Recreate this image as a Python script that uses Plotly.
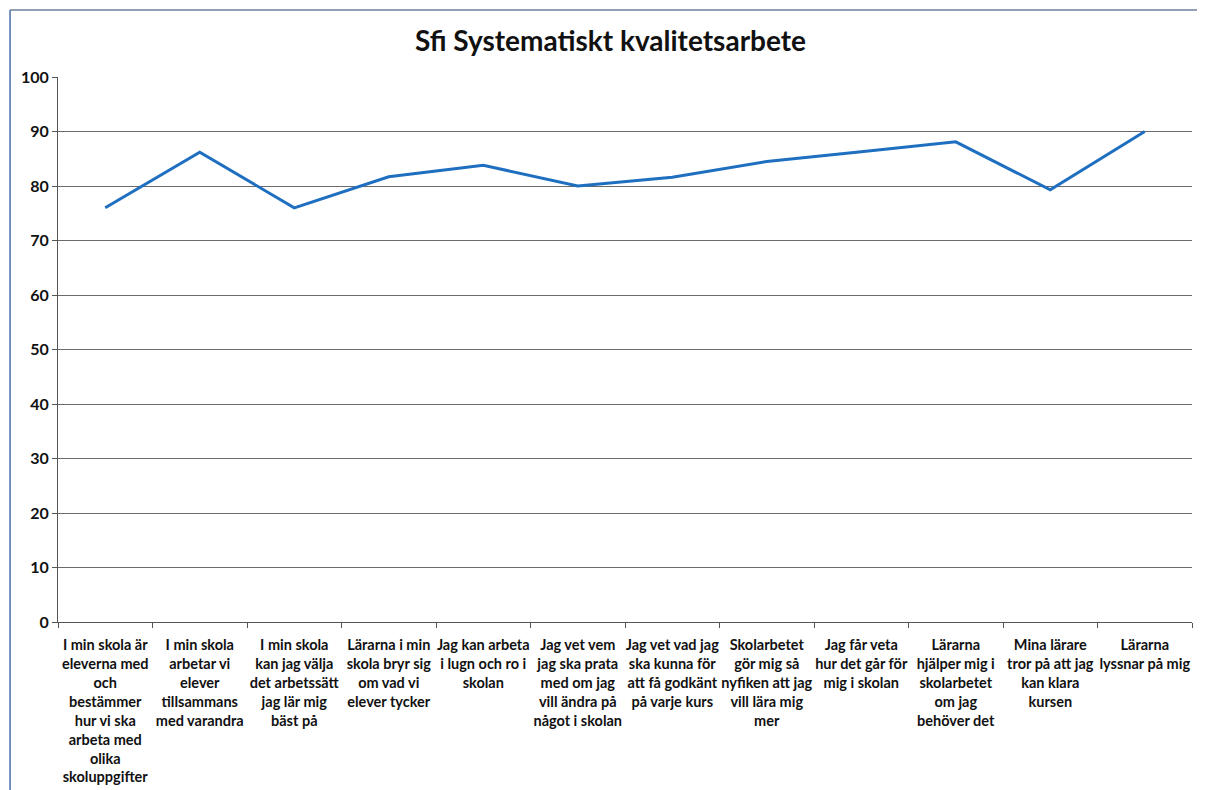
import plotly.graph_objects as go

categories = [
    "I min skola är<br>eleverna med<br>och<br>bestämmer<br>hur vi ska<br>arbeta med<br>olika<br>skoluppgifter",
    "I min skola<br>arbetar vi<br>elever<br>tillsammans<br>med varandra",
    "I min skola<br>kan jag välja<br>det arbetssätt<br>jag lär mig<br>bäst på",
    "Lärarna i min<br>skola bryr sig<br>om vad vi<br>elever tycker",
    "Jag kan arbeta<br>i lugn och ro i<br>skolan",
    "Jag vet vem<br>jag ska prata<br>med om jag<br>vill ändra på<br>något i skolan",
    "Jag vet vad jag<br>ska kunna för<br>att få godkänt<br>på varje kurs",
    "Skolarbetet<br>gör mig så<br>nyfiken att jag<br>vill lära mig<br>mer",
    "Jag får veta<br>hur det går för<br>mig i skolan",
    "Lärarna<br>hjälper mig i<br>skolarbetet<br>om jag<br>behöver det",
    "Mina lärare<br>tror på att jag<br>kan klara<br>kursen",
    "Lärarna<br>lyssnar på mig",
]
values = [76, 86.2, 76, 81.7, 83.8, 80, 81.6, 84.5, 86.3, 88.1, 79.3, 90]

font_family = "Lato, Open Sans, sans-serif"

fig = go.Figure()
fig.add_trace(go.Scatter(
    x=categories,
    y=values,
    mode="lines",
    line=dict(color="#1f6fc1", width=3),
    showlegend=False,
))

fig.update_layout(
    width=1205,
    height=790,
    plot_bgcolor="white",
    paper_bgcolor="white",
    margin=dict(l=50, r=21, t=69, b=176),
    title=dict(
        text="<b>Sfi Systematiskt kvalitetsarbete</b>",
        x=0.5,
        xanchor="center",
        y=0.958,
        yanchor="middle",
        font=dict(family=font_family, size=28, color="#111"),
    ),
    font=dict(family=font_family, color="#111"),
    shapes=[
        # scanned chart frame, left and top edges
        dict(type="line", xref="paper", yref="paper", x0=-0.0423, x1=-0.0423, y0=-0.33, y1=1.123,
             line=dict(color="#4a6fa8", width=1.5)),
        dict(type="line", xref="paper", yref="paper", x0=-0.0423, x1=1.03, y0=1.123, y1=1.123,
             line=dict(color="#6d7f9f", width=1.5)),
    ],
)

fig.update_xaxes(
    type="category",
    showline=True,
    linecolor="#555",
    linewidth=1,
    ticks="outside",
    tickson="boundaries",
    ticklen=5,
    tickcolor="#555",
    ticklabelstandoff=10,
    showgrid=False,
    tickangle=0,
    tickfont=dict(family=font_family, size=14.5, color="#111", weight="bold"),
    range=[-0.5, 11.5],
)
fig.update_yaxes(
    range=[0, 100],
    dtick=10,
    showline=True,
    linecolor="#555",
    linewidth=1,
    ticks="outside",
    ticklen=5,
    tickcolor="#555",
    showgrid=True,
    gridcolor="#6b6b6b",
    gridwidth=1,
    zeroline=False,
    tickfont=dict(family=font_family, size=16, color="#111", weight="bold"),
)

fig.write_html("out.html")
